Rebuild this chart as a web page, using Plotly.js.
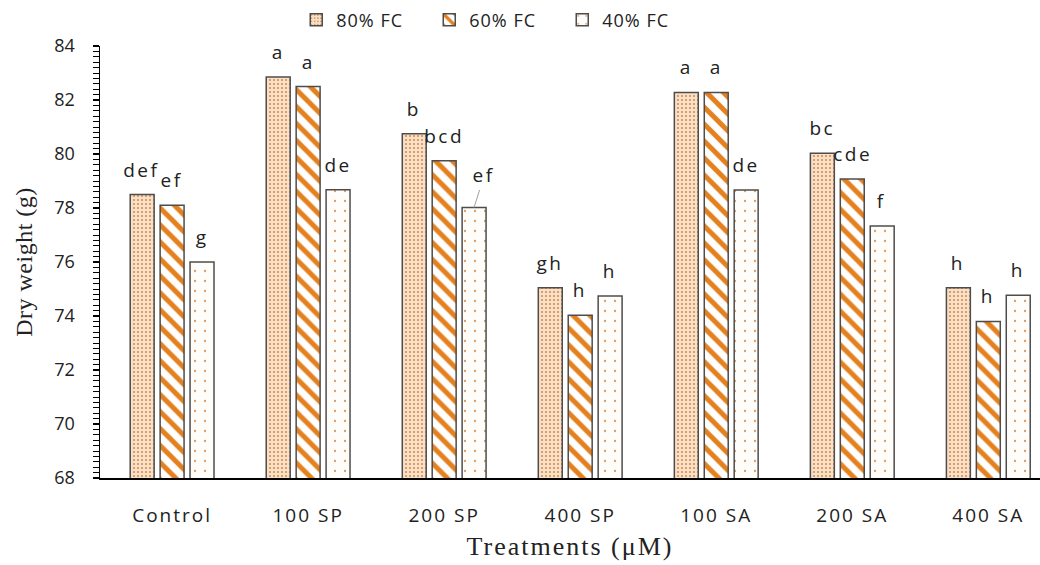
<!DOCTYPE html>
<html>
<head>
<meta charset="utf-8">
<script src="https://cdn.plot.ly/plotly-3.0.1.min.js"></script>
<style>
html,body{margin:0;padding:0;background:#fff;}
#chart{width:1040px;height:565px;}
#chart .xtick text{letter-spacing:2px;}
#chart text.annotation-text{letter-spacing:2.5px;}
#chart text.legendtext{letter-spacing:1px;}
#chart text.xtitle{letter-spacing:2px;}
#chart text.ytitle{letter-spacing:0.5px;}
</style>
</head>
<body>
<div id="chart"></div>
<script>
const categories = ["Control", "100 SP", "200 SP", "400 SP", "100 SA", "200 SA", "400 SA"];
const seriesNames = ["80% FC", "60% FC", "40% FC"];
const fc80 = [78.5, 82.85, 80.75, 75.05, 82.28, 80.03, 75.05];
const fc60 = [78.1, 82.5, 79.75, 74.03, 82.28, 79.07, 73.8];
const fc40 = [76.0, 78.68, 78.02, 74.74, 78.67, 77.33, 74.77];
const labels80 = ["def", "a", "b", "gh", "a", "bc", "h"];
const labels60 = ["ef", "a", "bcd", "h", "a", "cde", "h"];
const labels40 = ["g", "de", "ef", "h", "de", "f", "h"];

const values = [fc80, fc60, fc40];
const labelSets = [labels80, labels60, labels40];

const styles = [
  {color: "#fae0c6", pattern: {shape: ".", fgcolor: "#d48d55", size: 4, solidity: 0.22}},
  {color: "#ffffff", pattern: {shape: "\\", fgcolor: "#e4801e", size: 12, solidity: 0.42}},
  {color: "#fffdfa", pattern: {shape: ".", fgcolor: "#d89c68", size: 10, solidity: 0.04}}
];

const traces = values.map((v, i) => ({
  type: "bar",
  name: seriesNames[i],
  x: categories,
  y: v,
  marker: {
    color: styles[i].color,
    pattern: Object.assign({fillmode: "overlay", fgopacity: 1}, styles[i].pattern),
    line: {color: "#4d4d4d", width: 1.5}
  }
}));

const slot = 0.22;
const annotations = [];
labelSets.forEach((labs, j) => {
  labs.forEach((t, i) => {
    const leader = (j === 2 && i === 2);
    annotations.push({
      x: i + (j - 1) * slot,
      y: values[j][i],
      xref: "x", yref: "y",
      text: t,
      showarrow: leader,
      arrowhead: 0, arrowcolor: "#a0a0a0", arrowwidth: 1,
      ax: leader ? 10 : 0, ay: leader ? -32 : 0,
      standoff: 0,
      yshift: leader ? 0 : 25,
      yanchor: "middle",
      font: {family: "Open Sans, sans-serif", size: 19, color: "#222"}
    });
  });
});

const layout = {
  width: 1040, height: 565,
  margin: {l: 100, r: 0, t: 46, b: 87},
  paper_bgcolor: "#fff", plot_bgcolor: "#fff",
  barmode: "group",
  bargap: 0.34,
  bargroupgap: 0.2,
  showlegend: true,
  legend: {
    orientation: "h", x: 0.421, xanchor: "center", y: 1.06, yanchor: "middle",
    font: {family: "Open Sans, sans-serif", size: 18, color: "#222"},
    itemwidth: 30, entrywidth: 88
  },
  xaxis: {
    range: [-0.53, 6.38],
    showline: true, linecolor: "#000", linewidth: 1.5,
    ticks: "", showgrid: false, zeroline: false,
    tickfont: {family: "Open Sans, sans-serif", size: 19, color: "#222"},
    ticklabelstandoff: 20,
    title: {text: "Treatments (μM)", font: {family: "Liberation Serif, serif", size: 26, color: "#222"}, standoff: 9}
  },
  yaxis: {
    range: [68, 84],
    dtick: 2,
    showline: true, linecolor: "#000", linewidth: 1.5,
    ticks: "outside", ticklen: 6, tickcolor: "#000", tickwidth: 1.5,
    minor: {dtick: 0.2, ticks: "outside", ticklen: 6, tickcolor: "#000", tickwidth: 1},
    showgrid: false, zeroline: false,
    tickfont: {family: "Open Sans, sans-serif", size: 18, color: "#222"},
    ticklabelstandoff: 14,
    title: {text: "Dry weight (g)", font: {family: "Liberation Serif, serif", size: 24, color: "#222"}, standoff: 15}
  },
  annotations: annotations
};

Plotly.newPlot("chart", traces, layout, {displayModeBar: false, staticPlot: true});
</script>
</body>
</html>
